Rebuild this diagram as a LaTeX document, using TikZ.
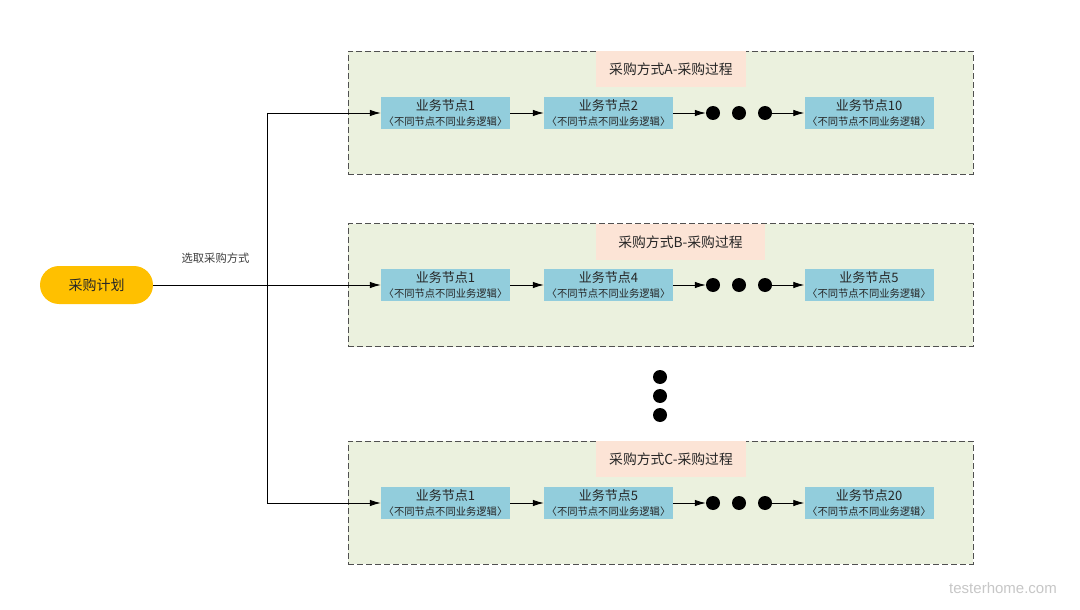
\documentclass[tikz,border=0pt]{standalone}
\usepackage{fontspec}
\setmainfont{Liberation Sans}
\newfontfamily\cjk{Noto Sans CJK SC}
\usetikzlibrary{arrows.meta}
\definecolor{contfill}{HTML}{EBF1DE}
\definecolor{contline}{HTML}{505050}
\definecolor{titlefill}{HTML}{FCE4D6}
\definecolor{nodefill}{HTML}{92CDDC}
\definecolor{planfill}{HTML}{FFC000}
\tikzset{
  container/.style={draw=contline, fill=contfill, dash pattern=on 6pt off 3pt, line width=0.9pt, minimum width=625pt, minimum height=123pt, inner sep=0pt},
  titlebox/.style={fill=titlefill, minimum height=36pt, inner sep=0pt, font=\cjk\fontsize{13.8}{15}\selectfont, text=black!85},
  biz/.style={fill=nodefill, minimum width=129pt, minimum height=32pt, inner sep=0pt, align=center, text=black!85},
  dotn/.style={circle, fill=black, minimum size=14pt, inner sep=0pt},
  arr/.style={-{Latex[length=11pt,width=6.5pt]}, line width=0.8pt},
  ln/.style={line width=0.8pt}
}
\newcommand{\biztext}[1]{{\fontsize{13}{14}\selectfont #1}\\[3pt]{\fontsize{10.3}{11}\selectfont 〈不同节点不同业务逻辑〉}}
\begin{document}
\begin{tikzpicture}[x=1pt,y=-1pt,font=\cjk]
\useasboundingbox[fill=white] (0,0) rectangle (1080,610);
% containers
\node[container] (boxA) at (660.5,112.5) {};
\node[container] (boxB) at (660.5,285) {};
\node[container] (boxC) at (660.5,502.5) {};
% titles
\node[titlebox, minimum width=150pt] (tA) at (671,69) {采购方式A-采购过程};
\node[titlebox, minimum width=169pt] (tB) at (680.5,242) {采购方式B-采购过程};
\node[titlebox, minimum width=150pt] (tC) at (671,459) {采购方式C-采购过程};
% row A
\node[biz] (a1) at (445.5,113) {\biztext{业务节点1}};
\node[biz] (a2) at (608.5,113) {\biztext{业务节点2}};
\node[dotn] (ad1) at (713,113) {};
\node[dotn] (ad2) at (739,113) {};
\node[dotn] (ad3) at (765,113) {};
\node[biz] (a3) at (869,113) {\biztext{业务节点10}};
% row B
\node[biz] (b1) at (445.5,285) {\biztext{业务节点1}};
\node[biz] (b2) at (608.5,285) {\biztext{业务节点4}};
\node[dotn] (bd1) at (713,285) {};
\node[dotn] (bd2) at (739,285) {};
\node[dotn] (bd3) at (765,285) {};
\node[biz] (b3) at (869,285) {\biztext{业务节点5}};
% row C
\node[biz] (c1) at (445.5,503) {\biztext{业务节点1}};
\node[biz] (c2) at (608.5,503) {\biztext{业务节点5}};
\node[dotn] (cd1) at (713,503) {};
\node[dotn] (cd2) at (739,503) {};
\node[dotn] (cd3) at (765,503) {};
\node[biz] (c3) at (869,503) {\biztext{业务节点20}};
% vertical dots
\node[dotn] (v1) at (660,377) {};
\node[dotn] (v2) at (660,396) {};
\node[dotn] (v3) at (660,415) {};
% start
\node[fill=planfill, rounded corners=19pt, minimum width=113pt, minimum height=38pt, inner sep=0pt, font=\cjk\fontsize{14}{15}\selectfont, text=black!85] (plan) at (96.5,285) {采购计划};
\node[font=\cjk\fontsize{11.3}{12}\selectfont, text=black!75] (lbl) at (215.5,258) {选取采购方式};
\coordinate (jA) at (267,113);
\coordinate (jC) at (267,503);
% connectors
\draw[arr] (plan.east) -- (b1.west);
\draw[ln] (jA) -- (jC);
\draw[arr] (jA) -- (a1.west);
\draw[arr] (jC) -- (c1.west);
\foreach \r in {a,b,c}{
  \draw[arr] (\r1.east) -- (\r2.west);
  \draw[arr] (\r2.east) -- (\r d1.west);
  \draw[arr] (\r d3.east) -- (\r3.west);
}
% watermark
\node[font=\fontsize{15}{16}\selectfont, text=black!22] (wm) at (1003,588) {testerhome.com};
\end{tikzpicture}
\end{document}
